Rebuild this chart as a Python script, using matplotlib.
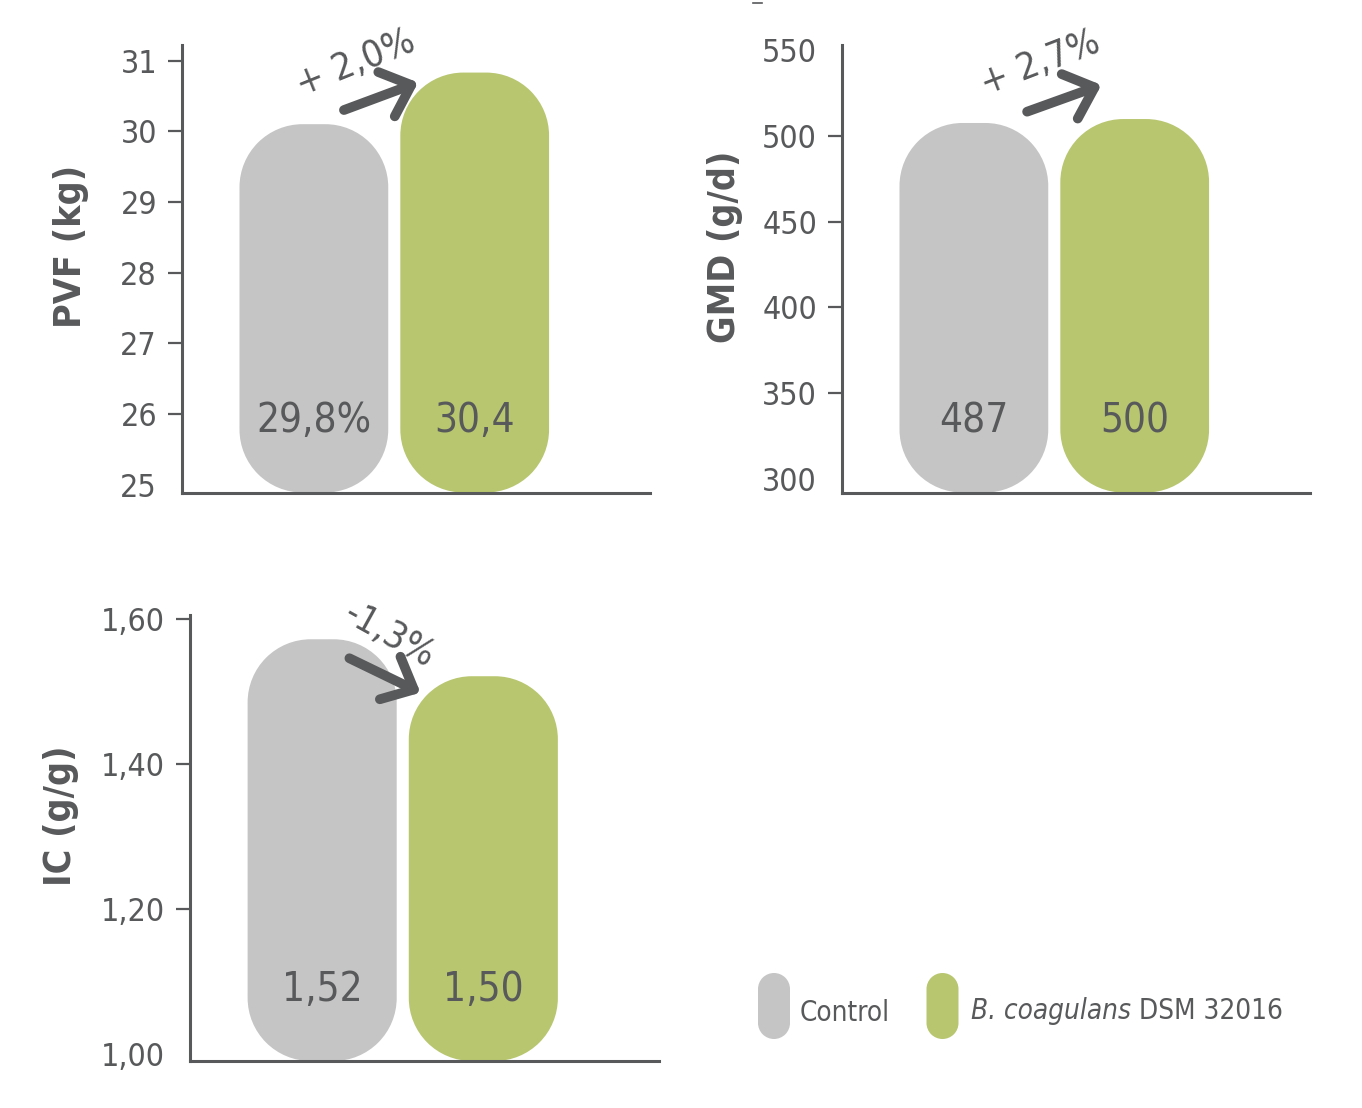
import os
import matplotlib
matplotlib.use("Agg")
import matplotlib.pyplot as plt
from matplotlib import font_manager as fm
from matplotlib.path import Path
from matplotlib.patches import PathPatch
from matplotlib.lines import Line2D

# ---- data ----
groups = ["Control", "B. coagulans DSM 32016"]
bar_colors = ["#c6c5c6", "#b8c670"]
ink = "#58595b"

pvf_heights = [30.10, 30.83]
pvf_labels = ["29,8%", "30,4"]
pvf_change = "+ 2,0%"
pvf_ticks = [25, 26, 27, 28, 29, 30, 31]

gmd_heights = [507.6, 509.9]
gmd_labels = ["487", "500"]
gmd_change = "+ 2,7%"
gmd_ticks = [300, 350, 400, 450, 500, 550]

ic_heights = [1.572, 1.521]
ic_labels = ["1,52", "1,50"]
ic_change = "-1,3%"
ic_ticks = [1.00, 1.20, 1.40, 1.60]
ic_ticklabels = ["1,00", "1,20", "1,40", "1,60"]

#### -----------------------------------------

W, H = 1362, 1108
DPI = 100

## -- pick a narrow font if there is one
font_files = {os.path.basename(f.fname): f.fname for f in fm.fontManager.ttflist}

def pick(names, weight="normal", style="normal"):
    for n in names:
        if n in font_files:
            return fm.FontProperties(fname=font_files[n])
    return fm.FontProperties(family="DejaVu Sans", weight=weight, style=style)

F_REG = pick(["LiberationSansNarrow-Regular.ttf", "DejaVuSansCondensed.ttf"])
F_BOLD = pick(["LiberationSansNarrow-Bold.ttf", "DejaVuSansCondensed-Bold.ttf"], weight="bold")
F_IT = pick(["LiberationSansNarrow-Italic.ttf", "DejaVuSansCondensed-Oblique.ttf"], style="italic")

def font(base, size):
    f = base.copy()
    f.set_size(size)
    return f


fig = plt.figure(figsize=(W / DPI, H / DPI), dpi=DPI)

def px_axes(left, top, right, bottom):
    return fig.add_axes([left / W, 1 - bottom / H, (right - left) / W, (bottom - top) / H])


def pill(ax, xc, width, y0, y1, color, r_px):
    # pill shaped bar, corner radius given in pixels
    bb = ax.get_position()
    aw, ah = bb.width * W, bb.height * H
    xa, xb = ax.get_xlim()
    ya, yb = ax.get_ylim()
    rx = abs(r_px * (xb - xa) / aw)
    ry = abs(r_px * (yb - ya) / ah)
    x0, x1 = xc - width / 2, xc + width / 2
    corners = [(x1 - rx, y1 - ry, 0, 90), (x0 + rx, y1 - ry, 90, 180),
               (x0 + rx, y0 + ry, 180, 270), (x1 - rx, y0 + ry, 270, 360)]
    verts, codes = [], []
    for cx, cy, a, b in corners:
        arc = Path.arc(a, b)
        v = arc.vertices * [rx, ry] + [cx, cy]
        c = list(arc.codes)
        if verts:
            c[0] = Path.LINETO
        verts.extend(v.tolist())
        codes.extend(c)
    verts.append(verts[0])
    codes.append(Path.CLOSEPOLY)
    ax.add_patch(PathPatch(Path(verts, codes), fc=color, ec="none", clip_on=False, zorder=1))


def panel(ax, heights, labels, ticks, ticklabels, ylim, ylabel, ylabel_x,
          change, arrow_from, arrow_to, text_xy, text_rot, hide_ticks):
    ax.set_xlim(-0.82, 2.09)
    ax.set_ylim(*ylim)
    for s in ["top", "right"]:
        ax.spines[s].set_visible(False)
    for s in ["left", "bottom"]:
        ax.spines[s].set_color(ink)
        ax.spines[s].set_linewidth(2.2)
    ax.set_xticks([])
    ax.set_yticks(ticks, ticklabels)
    ax.tick_params(axis="y", length=10, width=1.6, color=ink, labelcolor=ink, pad=8)
    for lbl in ax.get_yticklabels():
        lbl.set_fontproperties(font(F_REG, 23))
    for i in hide_ticks:
        ax.yaxis.get_major_ticks()[i].tick1line.set_visible(False)

    for i, h in enumerate(heights):
        pill(ax, i, 0.925, ylim[0], h, bar_colors[i], 63)
        ax.text(i, 0.135, labels[i], transform=ax.get_xaxis_transform(),
                ha="center", va="baseline", color=ink, fontproperties=font(F_REG, 29))

    ax.text(ylabel_x, 0.55, ylabel, transform=ax.transAxes, rotation=90,
            ha="center", va="center", color=ink, fontproperties=font(F_BOLD, 27))

    ax.annotate("", xy=arrow_to, xytext=arrow_from,
                arrowprops=dict(arrowstyle="->,head_length=0.95,head_width=0.85",
                                mutation_scale=20, lw=7, color=ink,
                                shrinkA=0, shrinkB=0, capstyle="round",
                                joinstyle="round"),
                zorder=5, annotation_clip=False)
    ax.text(text_xy[0], text_xy[1], change, rotation=text_rot, rotation_mode="anchor",
            ha="center", va="center", color=ink, fontproperties=font(F_REG, 27),
            zorder=5, clip_on=False)


ax1 = px_axes(182, 45, 650, 492.5)
panel(ax1, pvf_heights, pvf_labels, pvf_ticks, [str(t) for t in pvf_ticks],
      (24.89, 31.22), "PVF (kg)", -0.237, pvf_change,
      (0.187, 30.30), (0.648, 30.69), (0.262, 30.96), 22, [0])

ax2 = px_axes(842, 45, 1310, 492.5)
panel(ax2, gmd_heights, gmd_labels, gmd_ticks, [str(t) for t in gmd_ticks],
      (292.0, 553.1), "GMD (g/d)", -0.25, gmd_change,
      (0.331, 514.2), (0.793, 529.8), (0.414, 542.5), 21, [0, 5])

ax3 = px_axes(190, 615, 659, 1061)
panel(ax3, ic_heights, ic_labels, ic_ticks, ic_ticklabels,
      (0.99, 1.6055), "IC (g/g)", -0.275, ic_change,
      (0.169, 1.5458), (0.61, 1.4983), (0.414, 1.5776), -29, [0])

## -- legend
axl = px_axes(740, 950, 1340, 1060)
axl.set_xlim(740, 1340)
axl.set_ylim(1060, 950)
axl.axis("off")
pill(axl, 774, 32, 973, 1039, bar_colors[0], 16)
pill(axl, 942.5, 32, 973, 1039, bar_colors[1], 16)
axl.text(800, 1021, groups[0], ha="left", va="baseline", color=ink,
         fontproperties=font(F_REG, 20))
t_it = axl.text(971, 1019, groups[1].split(" DSM")[0], ha="left", va="baseline",
                color=ink, fontproperties=font(F_IT, 20))
axl.annotate(" DSM" + groups[1].split(" DSM")[1], xy=(1, 0), xycoords=t_it,
             ha="left", va="bottom", color=ink, fontproperties=font(F_REG, 20))

# small stray tick mark at the top edge
fig.add_artist(Line2D([753 / W, 762 / W], [1 - 3 / H, 1 - 3 / H], color=ink, lw=1.2))

fig.savefig("out.png", dpi=DPI)
